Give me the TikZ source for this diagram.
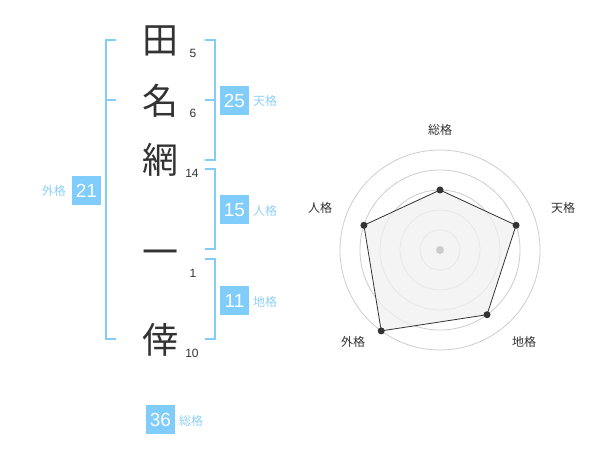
\documentclass[tikz,border=0pt]{standalone}
\usepackage{fontspec}
\setmainfont{Liberation Sans}
\newfontfamily\jp{Noto Sans CJK JP}
\definecolor{brk}{HTML}{82CCF8}
\definecolor{boxc}{HTML}{80CCFA}
\definecolor{lbl}{HTML}{8ED0F5}
\definecolor{ink}{HTML}{333333}
\definecolor{ring}{HTML}{CCCCCC}
\definecolor{area}{HTML}{F0F0F0}
\begin{document}
\begin{tikzpicture}[x=1pt,y=-1pt,
  kanji/.style={inner sep=0pt,text=ink,font=\jp\fontsize{36}{36}\selectfont},
  strokes/.style={inner sep=0pt,text=ink,font=\fontsize{12}{12}\selectfont},
  bracket/.style={draw=brk,line width=2pt},
  numbox/.style={fill=boxc,text=white,minimum width=29pt,minimum height=29pt,inner sep=0pt,font=\fontsize{19}{19}\selectfont},
  kaku/.style={inner sep=0pt,text=lbl,font=\jp\fontsize{12}{12}\selectfont},
  axislbl/.style={inner sep=0pt,text=ink,font=\jp\fontsize{12}{12}\selectfont},
  dot/.style={circle,fill=ink,inner sep=0pt,minimum size=7pt}]
\useasboundingbox (0,0) rectangle (600,470);
% characters
\node[kanji] (c1) at (160,41) {田};
\node[kanji] (c2) at (160,101) {名};
\node[kanji] (c3) at (160,160) {網};
\node[kanji] (c4) at (160,258) {一};
\node[kanji] (c5) at (160,340) {倖};
\node[strokes] (s1) at (193,53) {5};
\node[strokes] (s2) at (193,113) {6};
\node[strokes] (s3) at (192,173) {14};
\node[strokes] (s4) at (193,273) {1};
\node[strokes] (s5) at (192,353) {10};
% brackets
\coordinate (g1) at (116,40); \coordinate (g2) at (106,40);
\coordinate (g3) at (106,339); \coordinate (g4) at (116,339);
\coordinate (gm1) at (106,100); \coordinate (gm2) at (116,100);
\draw[bracket] (g1) -- (g2) -- (g3) -- (g4);
\draw[bracket] (gm1) -- (gm2);
\coordinate (t1) at (205,40); \coordinate (t2) at (215,40);
\coordinate (t3) at (215,160); \coordinate (t4) at (205,160);
\coordinate (tm1) at (205,100); \coordinate (tm2) at (215,100);
\draw[bracket] (t1) -- (t2) -- (t3) -- (t4);
\draw[bracket] (tm1) -- (tm2);
\coordinate (j1) at (205,169.5); \coordinate (j2) at (215,169.5);
\coordinate (j3) at (215,249.5); \coordinate (j4) at (205,249.5);
\draw[bracket] (j1) -- (j2) -- (j3) -- (j4);
\coordinate (k1) at (205,259.5); \coordinate (k2) at (215,259.5);
\coordinate (k3) at (215,339.5); \coordinate (k4) at (205,339.5);
\draw[bracket] (k1) -- (k2) -- (k3) -- (k4);
% boxes
\node[numbox] (b25) at (234.5,100.5) {25};
\node[kaku,anchor=west] (l25) at (253,100.5) {天格};
\node[numbox] (b15) at (234.5,210) {15};
\node[kaku,anchor=west] (l15) at (253,211) {人格};
\node[numbox] (b11) at (234.5,300.5) {11};
\node[kaku,anchor=west] (l11) at (253,302) {地格};
\node[numbox] (b21) at (86.5,190.5) {21};
\node[kaku,anchor=east] (l21) at (66,191) {外格};
\node[numbox] (b36) at (160.5,419.5) {36};
\node[kaku,anchor=west] (l36) at (179,421) {総格};
% radar
\coordinate (O) at (440,250);
\begin{scope}[y=1pt]
\foreach \r in {20,40,60,80,100} \draw[ring,line width=0.8pt] (O) circle (\r);
\path (O) ++(90:60) coordinate (p1);
\path (O) ++(18:80) coordinate (p2);
\path (O) ++(-54:80) coordinate (p3);
\path (O) ++(-126:100) coordinate (p4);
\path (O) ++(162:80) coordinate (p5);
\end{scope}
\draw[ink,fill=area,fill opacity=0.75,line width=0.8pt] (p1) -- (p2) -- (p3) -- (p4) -- (p5) -- cycle;
\foreach \p in {p1,p2,p3,p4,p5} \node[dot] at (\p) {};
\node[circle,fill=ring,inner sep=0pt,minimum size=8pt] (ctr) at (O) {};
\node[axislbl] (a1) at (440,130) {総格};
\node[axislbl] (a2) at (563,208) {天格};
\node[axislbl] (a3) at (524,342) {地格};
\node[axislbl] (a4) at (353,342) {外格};
\node[axislbl] (a5) at (320,208) {人格};
\end{tikzpicture}
\end{document}
